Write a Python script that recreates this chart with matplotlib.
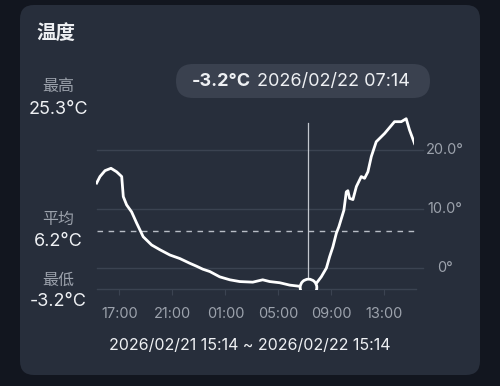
import matplotlib
matplotlib.use("Agg")
import matplotlib.pyplot as plt
from matplotlib.patches import FancyBboxPatch

# ---------------- data ----------------
hours = [0.05, 0.30, 0.68, 1.13, 1.56, 1.94, 2.06, 2.31, 2.69, 3.07,
         3.56, 4.20, 4.82, 5.58, 6.33, 7.08, 7.59, 8.06, 8.59, 9.34,
         10.10, 10.85, 11.83, 12.58, 13.11, 13.87, 14.62, 15.37, 16.0, 16.63,
         17.0, 17.39, 17.63, 17.88, 18.14, 18.33, 18.52, 18.71, 18.89, 19.01,
         19.14, 19.39, 19.65, 20.02, 20.27, 20.52, 20.78, 21.15, 21.78, 22.53,
         23.04, 23.41, 23.66, 24.04]
temps = [14.4, 15.5, 16.5, 16.9, 16.3, 15.5, 12.1, 10.7, 9.5, 7.6,
         5.3, 3.9, 3.1, 2.2, 1.6, 0.8, 0.3, -0.2, -0.6, -1.5,
         -2.0, -2.3, -2.4, -2.0, -2.3, -2.5, -2.9, -3.1, -3.2, -2.6,
         -1.5, 0.0, 1.9, 3.6, 5.9, 7.0, 8.4, 9.8, 12.9, 13.1,
         11.8, 11.6, 13.8, 15.5, 15.2, 16.3, 18.9, 21.4, 22.8, 24.8,
         24.8, 25.3, 23.4, 21.1]

start_clock = 15 + 14 / 60          # 15:14
tick_clock = [17, 21, 1, 5, 9, 13]
tick_labels = ["17:00", "21:00", "01:00", "05:00", "09:00", "13:00"]
grid_values = [0, 10, 20]
grid_labels = ["0°", "10.0°", "20.0°"]

t_max, t_avg, t_min = 25.3, 6.2, -3.2
sel_hour, sel_temp = 16.0, -3.2
sel_label_value = "-3.2°C"
sel_label_time = "2026/02/22 07:14"
title = "温度"
range_text = "2026/02/21 15:14 ~ 2026/02/22 15:14"

# ---------------- style ----------------
OUTER = "#12161f"
CARD = "#272e3b"
PILL = "#3a414f"
GRID = "#3b4351"
GRAY = "#9ca2ac"
WHITE = "#eef0f3"
FONTS = ["Inter", "Noto Sans CJK SC", "DejaVu Sans"]
plt.rcParams["font.family"] = FONTS

W, H = 500, 386
fig = plt.figure(figsize=(W / 100, H / 100), dpi=100, facecolor=OUTER)

# background axes in pixel coordinates
bg = fig.add_axes([0, 0, 1, 1])
bg.set_xlim(0, W)
bg.set_ylim(H, 0)
bg.axis("off")
bg.add_patch(FancyBboxPatch((20, 5), 460, 370, boxstyle="round,pad=0,rounding_size=14",
                            facecolor=CARD, edgecolor="none"))
bg.add_patch(FancyBboxPatch((176, 64), 254, 34, boxstyle="round,pad=0,rounding_size=17",
                            facecolor=PILL, edgecolor="none"))

bg.text(36, 34, title, color=WHITE, fontsize=14, fontweight="bold", va="center", ha="left")

bg.text(58, 87, "最高", color=GRAY, fontsize=11.5, ha="center", va="center")
bg.text(58, 109, f"{t_max}°C", color=WHITE, fontsize=13, ha="center", va="center")
bg.text(58, 219, "平均", color=GRAY, fontsize=11.5, ha="center", va="center")
bg.text(58, 242, f"{t_avg}°C", color=WHITE, fontsize=13, ha="center", va="center")
bg.text(58, 280, "最低", color=GRAY, fontsize=11.5, ha="center", va="center")
bg.text(58, 301, f"{t_min}°C", color=WHITE, fontsize=13, ha="center", va="center")

bg.text(251, 81, sel_label_value, color=WHITE, fontsize=13, fontweight="bold",
        ha="right", va="center")
bg.text(257, 81, sel_label_time, color=WHITE, fontsize=13, ha="left", va="center")

bg.text(250, 346, range_text, color=WHITE, fontsize=11.5, ha="center", va="center")

# ---------------- data axes ----------------
px_left, px_right, px_top, px_bot = 96, 414, 115, 289
px_per_deg = 5.9
y0_px = 268
ylo = (y0_px - px_bot) / px_per_deg
yhi = (y0_px - px_top) / px_per_deg
ax = fig.add_axes([px_left / W, 1 - px_bot / H, (px_right - px_left) / W, (px_bot - px_top) / H])
ax.set_facecolor("none")
ax.set_xlim(0, 24)
ax.set_ylim(ylo, yhi)
for s in ax.spines.values():
    s.set_visible(False)

# grid lines (extend a bit beyond plot right)
for v in grid_values:
    ax.plot([0.05, 24.65], [v, v], color=GRID, lw=1.0, clip_on=False, zorder=1)
ax.plot([0.05, 24.15], [ylo, ylo], color=GRID, lw=1.0, clip_on=False, zorder=1)
for v, lab in zip(grid_values, grid_labels):
    ax.text(26.35, v, lab, color=GRAY, fontsize=10.5, ha="center", va="center")

# average dashed line
ax.plot([0.05, 24.1], [t_avg, t_avg], color="#b8bdc6", lw=1.0, ls=(0, (4, 4)),
        clip_on=False, zorder=2)

# crosshair
ax.plot([sel_hour, sel_hour], [ylo, 24.6], color="#c3c7ce", lw=0.9, zorder=3)

# curve
ax.plot(hours, temps, color="white", lw=2.0, solid_joinstyle="round", zorder=4)

# selected point marker (clipped by axes)
ax.plot([sel_hour], [sel_temp], marker="o", markersize=12, markerfacecolor=CARD,
        markeredgecolor="white", markeredgewidth=2.0, zorder=5)

# x ticks
tick_pos = [(c - start_clock) % 24 for c in tick_clock]
ax.set_xticks(tick_pos)
ax.set_xticklabels(tick_labels)
ax.set_yticks([])
ax.tick_params(axis="x", length=4, width=0.8, color=GRID, labelcolor=GRAY,
               labelsize=10.5, pad=9)

fig.savefig("out.png", dpi=100, facecolor=OUTER)
